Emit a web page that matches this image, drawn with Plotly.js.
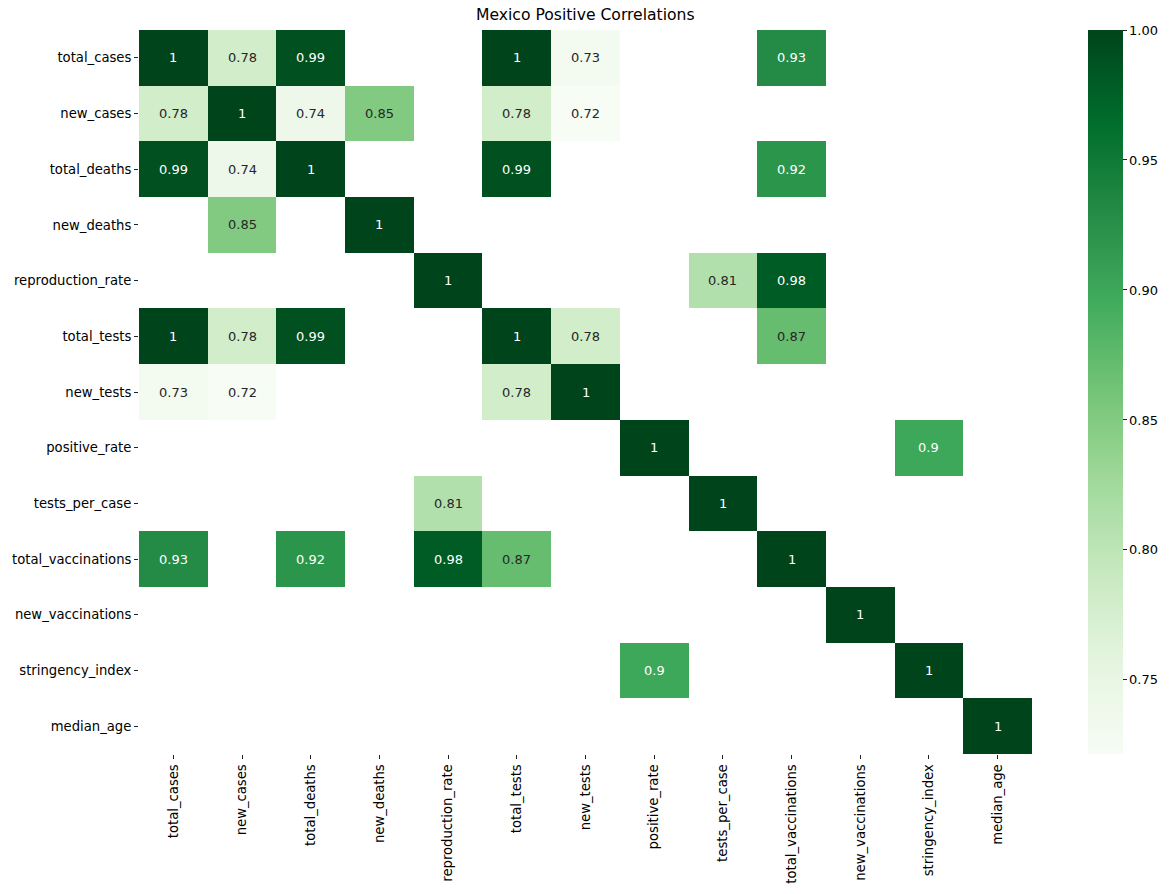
<!DOCTYPE html>
<html>
<head>
<meta charset="utf-8">
<script src="https://cdn.plot.ly/plotly-3.0.1.min.js"></script>
<style>html,body{margin:0;padding:0;background:#fff;}</style>
</head>
<body>
<div id="chart" style="width:1173px;height:894px;"></div>
<script>
const labels = ["total_cases","new_cases","total_deaths","new_deaths","reproduction_rate","total_tests","new_tests","positive_rate","tests_per_case","total_vaccinations","new_vaccinations","stringency_index","median_age"];

// Correlations (only values shown in the masked heatmap; null = hidden)
const row_total_cases        = [1, 0.78, 0.99, null, null, 1, 0.73, null, null, 0.93, null, null, null];
const row_new_cases          = [0.78, 1, 0.74, 0.85, null, 0.78, 0.722, null, null, null, null, null, null];
const row_total_deaths       = [0.99, 0.74, 1, null, null, 0.99, null, null, null, 0.92, null, null, null];
const row_new_deaths         = [null, 0.85, null, 1, null, null, null, null, null, null, null, null, null];
const row_reproduction_rate  = [null, null, null, null, 1, null, null, null, 0.81, 0.98, null, null, null];
const row_total_tests        = [1, 0.78, 0.99, null, null, 1, 0.78, null, null, 0.87, null, null, null];
const row_new_tests          = [0.73, 0.722, null, null, null, 0.78, 1, null, null, null, null, null, null];
const row_positive_rate      = [null, null, null, null, null, null, null, 1, null, null, null, 0.9, null];
const row_tests_per_case     = [null, null, null, null, 0.81, null, null, null, 1, null, null, null, null];
const row_total_vaccinations = [0.93, null, 0.92, null, 0.98, 0.87, null, null, null, 1, null, null, null];
const row_new_vaccinations   = [null, null, null, null, null, null, null, null, null, null, 1, null, null];
const row_stringency_index   = [null, null, null, null, null, null, null, 0.9, null, null, null, 1, null];
const row_median_age         = [null, null, null, null, null, null, null, null, null, null, null, null, 1];

const z = [row_total_cases,row_new_cases,row_total_deaths,row_new_deaths,row_reproduction_rate,row_total_tests,row_new_tests,row_positive_rate,row_tests_per_case,row_total_vaccinations,row_new_vaccinations,row_stringency_index,row_median_age];

const greens = ["#f7fcf5","#e5f5e0","#c7e9c0","#a1d99b","#74c476","#41ab5d","#238b45","#006d2c","#00441b"];
const colorscale = greens.map((c,i)=>[i/(greens.length-1), c]);
const zmin = 0.7215, zmax = 1.0;

function fmt(v){ return String(parseFloat(v.toPrecision(2))); }

const annotations = [];
z.forEach((row, i) => row.forEach((v, j) => {
  if (v === null) return;
  annotations.push({
    x: labels[j], y: labels[i], xref: 'x', yref: 'y',
    text: fmt(v), showarrow: false,
    font: {family: 'DejaVu Sans', size: 13, color: v >= 0.88 ? '#ffffff' : '#262626'}
  });
}));
annotations.push({
  xref: 'paper', yref: 'paper', x: 0.5, y: 1, yanchor: 'bottom', yshift: 4,
  text: 'Mexico Positive Correlations', showarrow: false,
  font: {family: 'DejaVu Sans', size: 15.6, color: '#000'}
});

const trace = {
  type: 'heatmap', z: z, x: labels, y: labels,
  colorscale: colorscale, zmin: zmin, zmax: zmax,
  hoverongaps: false, xgap: 0, ygap: 0,
  colorbar: {
    x: 1.0627, xanchor: 'left', xref: 'paper',
    y: 0, yanchor: 'bottom', len: 1, lenmode: 'fraction',
    thickness: 35, thicknessmode: 'pixels',
    outlinewidth: 0,
    ticks: 'outside', ticklen: 4, tickwidth: 1, tickcolor: '#222',
    tickvals: [0.75, 0.80, 0.85, 0.90, 0.95, 1.00],
    ticktext: ['0.75','0.80','0.85','0.90','0.95','1.00'],
    tickfont: {family: 'DejaVu Sans', size: 13, color: '#000'},
    xpad: 0, ypad: 0
  }
};

const layout = {
  width: 1173, height: 894,
  margin: {l: 139, r: 141, t: 30, b: 140, pad: 0},
  paper_bgcolor: '#fff', plot_bgcolor: '#fff',
  xaxis: {
    type: 'category', showgrid: false, zeroline: false, showline: false,
    ticks: 'outside', ticklen: 4, tickwidth: 1, tickcolor: '#222',
    tickangle: -90, tickfont: {family: 'DejaVu Sans', size: 13.2, color: '#000'},
    range: [-0.5, 12.5]
  },
  yaxis: {
    type: 'category', showgrid: false, zeroline: false, showline: false,
    ticks: 'outside', ticklen: 4, tickwidth: 1, tickcolor: '#222',
    tickfont: {family: 'DejaVu Sans', size: 13.2, color: '#000'},
    range: [12.5, -0.5]
  },
  annotations: annotations,
  showlegend: false
};

Plotly.newPlot('chart', [trace], layout, {displayModeBar: false, staticPlot: true});
</script>
</body>
</html>
